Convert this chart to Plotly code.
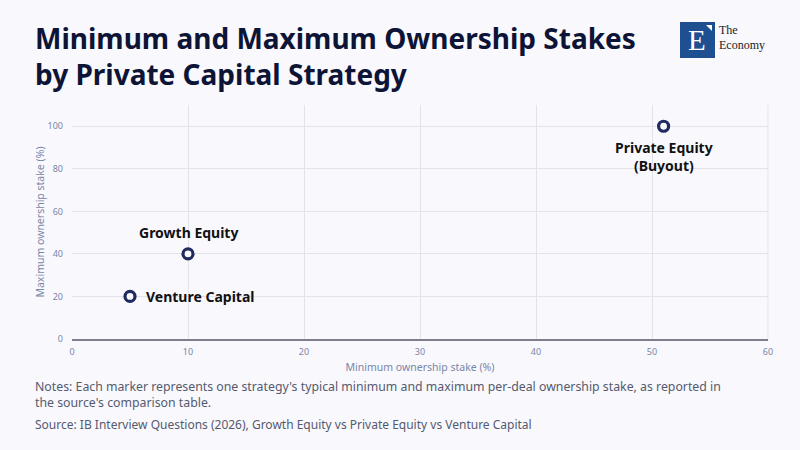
import plotly.graph_objects as go

strategies = ["Venture Capital", "Growth Equity", "Private Equity<br>(Buyout)"]
min_stake = [5, 10, 51]
max_stake = [20, 40, 100]

x_ticks = [0, 10, 20, 30, 40, 50, 60]
y_ticks = [0, 20, 40, 60, 80, 100]

title_text = "Minimum and Maximum Ownership Stakes<br>by Private Capital Strategy"
notes_text = ("Notes: Each marker represents one strategy's typical minimum and maximum per-deal ownership stake, as reported in<br>"
              "the source's comparison table.")
source_text = "Source: IB Interview Questions (2026), Growth Equity vs Private Equity vs Venture Capital"

FONT = "Noto Sans"
BG = "#f8f8fd"
NAVY = "#1f2a5e"
L, R, T, B = 72, 768, 105, 339

fig = go.Figure()
fig.add_trace(go.Scatter(
    x=min_stake, y=max_stake,
    mode="markers",
    marker=dict(size=10, color=BG, line=dict(color=NAVY, width=3.2)),
    cliponaxis=False, hoverinfo="skip", showlegend=False,
))

label_style = [
    dict(xanchor="left", yanchor="middle", xshift=14, yshift=0),
    dict(xanchor="center", yanchor="bottom", xshift=0, yshift=10),
    dict(xanchor="center", yanchor="top", xshift=0, yshift=-10),
]
for name, xv, yv, st in zip(strategies, min_stake, max_stake, label_style):
    fig.add_annotation(text=name, x=xv, y=yv, xref="x", yref="y", showarrow=False,
                       align="center", font=dict(family=FONT, size=14, color="#111111", weight="bold"),
                       **st)

fig.update_layout(
    width=800, height=450,
    paper_bgcolor=BG, plot_bgcolor=BG,
    margin=dict(l=L, r=800 - R, t=T, b=450 - B),
    font=dict(family=FONT),
    xaxis=dict(range=[0, 60], tickvals=x_ticks, showgrid=True, gridcolor="#e3e3ec", gridwidth=1,
               zeroline=False, showline=True, linecolor="#7d7f8c", linewidth=1.5,
               tickfont=dict(size=9, color="#7a86a8"),
               title=dict(text="Minimum ownership stake (%)", font=dict(size=10.5, color="#7a86a8"), standoff=7),
               ticks="", ticklabelstandoff=3, fixedrange=True),
    yaxis=dict(range=[0, 110], tickvals=y_ticks, showgrid=True, gridcolor="#e3e3ec", gridwidth=1,
               zeroline=False, showline=False,
               tickfont=dict(size=9, color="#7a86a8"),
               title=dict(text="Maximum ownership stake (%)", font=dict(size=10.5, color="#7a86a8"), standoff=0),
               ticks="", ticklabelstandoff=8, fixedrange=True),
)

fig.add_shape(type="line", xref="paper", yref="paper", x0=1, x1=1, y0=0, y1=1,
              line=dict(color="#e3e3ec", width=1))

def pap(xpx, ypx):
    return (xpx - L) / (R - L), (B - ypx) / (B - T)

def txt(text, xpx, ypx, size, color, weight="normal", family=FONT, yanchor="top"):
    px, py = pap(xpx, ypx)
    fig.add_annotation(text=text, xref="paper", yref="paper", x=px, y=py,
                       xanchor="left", yanchor=yanchor, showarrow=False, align="left", borderpad=0,
                       font=dict(family=family, size=size, color=color, weight=weight))

txt(title_text, 34, 18, 28, "#0d1436", "bold")
txt(notes_text, 34, 377, 12.3, "#555a6e")
txt(source_text, 34, 415, 12, "#555a6e")

# logo
lx0, ly0 = pap(680, 22)
lx1, ly1 = pap(715, 58)
fig.add_shape(type="rect", xref="paper", yref="paper", x0=lx0, x1=lx1, y0=ly1, y1=ly0,
              fillcolor="#1d4f91", line=dict(width=0))
ax0, ay0 = pap(706, 25)
ax1, ay1 = pap(712, 25)
ax2, ay2 = pap(712, 31)
fig.add_shape(type="path", xref="paper", yref="paper",
              path=f"M {ax0} {ay0} L {ax1} {ay1} L {ax2} {ay2} Z",
              fillcolor="white", line=dict(width=0))
cx, cy = pap(697, 40)
fig.add_annotation(text="E", xref="paper", yref="paper", x=cx, y=cy, xanchor="center", yanchor="middle",
                   showarrow=False, font=dict(family="Liberation Serif", size=29, color="white"))
txt("The", 718, 38, 12, "#222222", family="Liberation Serif", yanchor="bottom")
txt("Economy", 718, 53, 12, "#222222", family="Liberation Serif", yanchor="bottom")

fig.write_html("out.html", config={"displayModeBar": False},
               post_script="document.body.style.margin='0';document.body.style.background='#f8f8fd';")
